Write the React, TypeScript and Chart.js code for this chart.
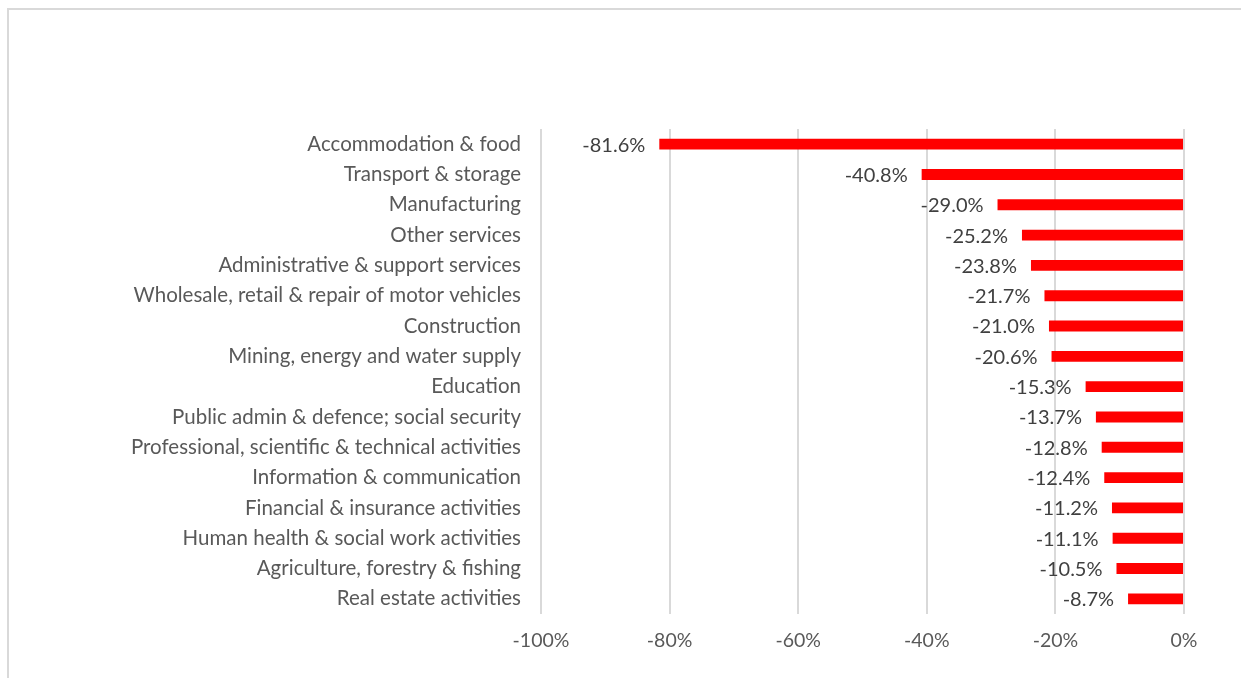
import React, { useEffect, useRef } from "react";
import { Chart, registerables } from "chart.js";

Chart.register(...registerables);

const categories = [
  "Accommodation & food",
  "Transport & storage",
  "Manufacturing",
  "Other services",
  "Administrative & support services",
  "Wholesale, retail & repair of motor vehicles",
  "Construction",
  "Mining, energy and water supply",
  "Education",
  "Public admin & defence; social security",
  "Professional, scientific & technical activities",
  "Information & communication",
  "Financial & insurance activities",
  "Human health & social work activities",
  "Agriculture, forestry & fishing",
  "Real estate activities",
];

const values = [
  -81.6, -40.8, -29.0, -25.2, -23.8, -21.7, -21.0, -20.6, -15.3, -13.7, -12.8,
  -12.4, -11.2, -11.1, -10.5, -8.7,
];

const xMin = -100;
const xMax = 0;
const xStep = 20;

const FONT = "Lato, sans-serif";

const dataLabelPlugin = {
  id: "dataLabels",
  afterDatasetsDraw(chart: any) {
    const ctx = chart.ctx;
    const meta = chart.getDatasetMeta(0);
    ctx.save();
    ctx.font = `20px ${FONT}`;
    ctx.fillStyle = "#404040";
    ctx.textAlign = "right";
    ctx.textBaseline = "middle";
    meta.data.forEach((bar: any, i: number) => {
      const v = values[i];
      ctx.fillText(`${v.toFixed(1)}%`, bar.x - 14, bar.y + 1);
    });
    ctx.restore();
  },
};

export default function App() {
  const canvasRef = useRef<HTMLCanvasElement>(null);

  useEffect(() => {
    if (!canvasRef.current) return;
    const chart = new Chart(canvasRef.current, {
      type: "bar",
      data: {
        labels: categories,
        datasets: [
          {
            data: values,
            backgroundColor: "#ff0000",
            borderWidth: 0,
            barPercentage: 0.72,
            categoryPercentage: 0.5,
          },
        ],
      },
      options: {
        indexAxis: "y",
        animation: false,
        responsive: false,
        maintainAspectRatio: false,
        layout: { padding: { top: 129, right: 57, bottom: 0, left: 0 } },
        plugins: {
          legend: { display: false },
          tooltip: { enabled: false },
        },
        scales: {
          x: {
            min: xMin,
            max: xMax,
            ticks: {
              stepSize: xStep,
              padding: 15,
              color: "#595959",
              font: { family: FONT, size: 19.5 },
              callback: (v: any) => `${v}%`,
            },
            grid: { color: "#d9d9d9", lineWidth: 2, drawTicks: false },
            border: { display: false },
            afterFit: (scale: any) => {
              scale.height = 64;
            },
          },
          y: {
            ticks: {
              padding: 20,
              color: "#595959",
              font: { family: FONT, size: 20.5 },
              autoSkip: false,
            },
            grid: { display: false, drawTicks: false },
            border: { display: false },
            afterFit: (scale: any) => {
              scale.width = 541;
            },
          },
        },
      },
      plugins: [dataLabelPlugin],
    });
    return () => chart.destroy();
  }, []);

  return (
    <div style={{ position: "absolute", left: 0, top: 0, width: 1241, height: 678, background: "#fff" }}>
      <div
        style={{
          position: "absolute",
          left: 7,
          top: 8,
          width: 1241,
          height: 678,
          borderTop: "2px solid #d9d9d9",
          borderLeft: "2px solid #d9d9d9",
        }}
      />
      <canvas ref={canvasRef} width={1241} height={678} style={{ position: "absolute", left: 0, top: 0 }} />
    </div>
  );
}
